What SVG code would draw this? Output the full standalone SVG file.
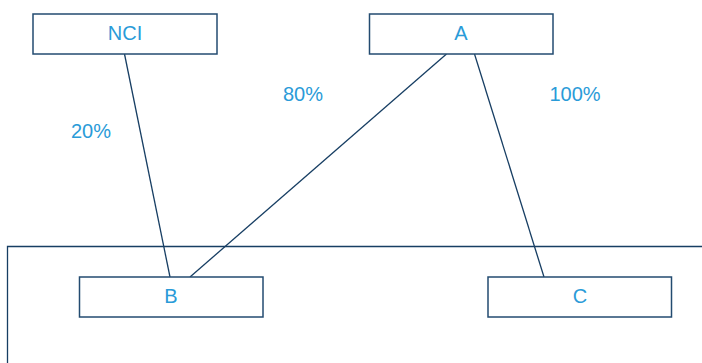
<svg xmlns="http://www.w3.org/2000/svg" width="702" height="363" viewBox="0 0 702 363">
<style>
.box{fill:#fff;stroke:#234b70;stroke-width:1.5}
.lbl{font-family:"Liberation Sans",Arial,sans-serif;font-size:20px;fill:#2a9bd8;text-anchor:middle}
.conn{stroke:#173e63;stroke-width:1.3;fill:none}
</style>
<rect width="702" height="363" fill="#fff"/>
<g id="frame"><path class="conn" d="M7.5,363 V246.5 H702"/></g>
<g id="connectors">
<line class="conn" x1="124.5" y1="54" x2="170" y2="277"/>
<line class="conn" x1="446.5" y1="54" x2="190" y2="277"/>
<line class="conn" x1="474.5" y1="54" x2="544" y2="277"/>
</g>
<g id="labels">
<text class="lbl" x="91" y="138">20%</text>
<text class="lbl" x="303" y="101">80%</text>
<text class="lbl" x="575" y="101">100%</text>
</g>
<g id="NCI"><rect class="box" x="33" y="14" width="184" height="40"/><text class="lbl" x="125" y="40">NCI</text></g>
<g id="A"><rect class="box" x="369.5" y="14" width="183.5" height="40"/><text class="lbl" x="461" y="40">A</text></g>
<g id="B"><rect class="box" x="79.5" y="277" width="183.5" height="40"/><text class="lbl" x="171" y="303">B</text></g>
<g id="C"><rect class="box" x="488" y="277" width="183.5" height="40"/><text class="lbl" x="580" y="303">C</text></g>
</svg>
